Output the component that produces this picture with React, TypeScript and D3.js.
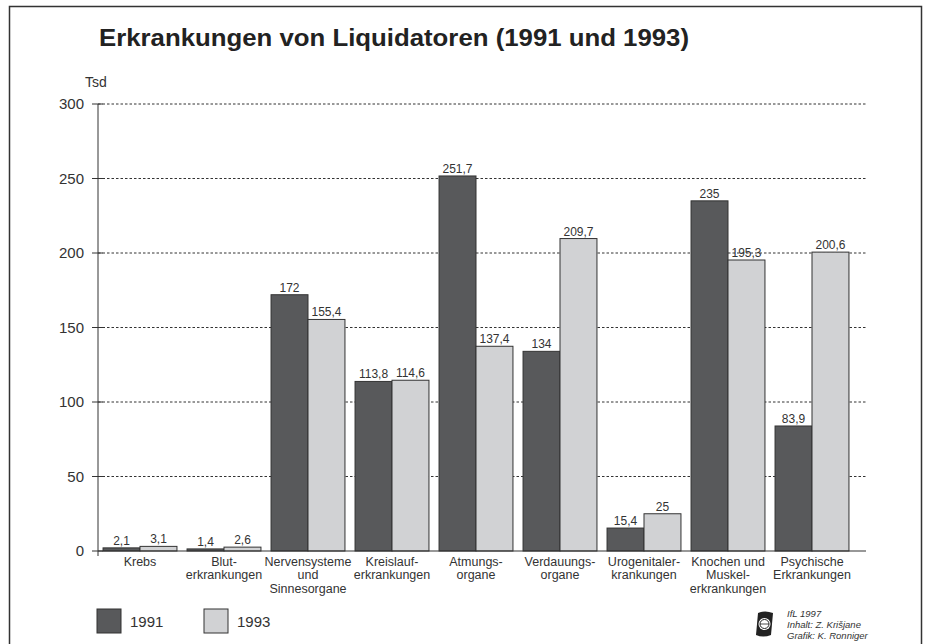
import React from "react";
import * as d3 from "d3";

const categories: string[][] = [
  ["Krebs"],
  ["Blut-", "erkrankungen"],
  ["Nervensysteme", "und", "Sinnesorgane"],
  ["Kreislauf-", "erkrankungen"],
  ["Atmungs-", "organe"],
  ["Verdauungs-", "organe"],
  ["Urogenitaler-", "krankungen"],
  ["Knochen und", "Muskel-", "erkrankungen"],
  ["Psychische", "Erkrankungen"],
];
const values1991 = [2.1, 1.4, 172, 113.8, 251.7, 134, 15.4, 235, 83.9];
const values1993 = [3.1, 2.6, 155.4, 114.6, 137.4, 209.7, 25, 195.3, 200.6];
const seriesNames = ["1991", "1993"];
const yTicks = [0, 50, 100, 150, 200, 250, 300];
const colors = ["#58595b", "#d1d2d4"];

const fmt = (v: number) => String(v).replace(".", ",");
const FONT = "'Liberation Sans', Arial, Helvetica, sans-serif";

export default function App() {
  const W = 927, H = 644;
  const x0 = 98, x1 = 854, gridEnd = 866;
  const y = d3.scaleLinear().domain([0, 300]).range([551, 104]);
  const xb = d3.scaleBand<number>().domain(d3.range(categories.length)).range([x0, x1]).paddingInner(0.12).paddingOuter(0.06);
  const xs = d3.scaleBand<number>().domain([0, 1]).range([0, xb.bandwidth()]);
  const series = [values1991, values1993];

  return (
    <svg width={W} height={H} style={{ position: "absolute", left: 0, top: 0, fontFamily: FONT }}>
      <rect x={0} y={0} width={W} height={H} fill="#fff" />
      <rect x={9.5} y={6.5} width={912} height={660} fill="none" stroke="#333" strokeWidth={1.5} />
      <text x={99} y={46} fontSize={24.5} fontWeight="bold" fill="#222" textLength={590} lengthAdjust="spacingAndGlyphs">Erkrankungen von Liquidatoren (1991 und 1993)</text>
      <text x={85} y={87} fontSize={14} fill="#333">Tsd</text>
      {yTicks.map((t) => (
        <g key={t}>
          {t > 0 && (
            <line x1={x0} x2={gridEnd} y1={y(t)} y2={y(t)} stroke="#333" strokeWidth={1} strokeDasharray="2.5,2" />
          )}
          <line x1={92} x2={103} y1={y(t)} y2={y(t)} stroke="#333" strokeWidth={1} />
          <text x={84} y={y(t) + 5} fontSize={15} textAnchor="end" fill="#333">{t}</text>
        </g>
      ))}
      {series.map((vals, si) =>
        vals.map((v, i) => {
          const bx = (xb(i) as number) + (xs(si) as number);
          return (
            <g key={`${si}-${i}`}>
              <rect x={bx} y={y(v)} width={xs.bandwidth()} height={y(0) - y(v)} fill={colors[si]} stroke="#333" strokeWidth={1} />
              <text x={bx + xs.bandwidth() / 2} y={y(v) - 3} fontSize={12} textAnchor="middle" fill="#333">{fmt(v)}</text>
            </g>
          );
        })
      )}
      <line x1={x0} x2={x0} y1={y(300)} y2={y(0) + 5} stroke="#333" strokeWidth={1} />
      <line x1={x0} x2={gridEnd} y1={y(0)} y2={y(0)} stroke="#333" strokeWidth={1.2} />
      {categories.map((lines, i) => (
        <text key={i} fontSize={12.5} textAnchor="middle" fill="#333">
          {lines.map((l, j) => (
            <tspan key={j} x={(xb(i) as number) + xb.bandwidth() / 2} y={566 + j * 13.3}>{l}</tspan>
          ))}
        </text>
      ))}
      {seriesNames.map((n, si) => (
        <g key={n} transform={`translate(${97 + si * 107},609)`}>
          <rect x={0} y={0} width={24} height={24} fill={colors[si]} stroke="#333" strokeWidth={1} />
          <text x={33} y={18} fontSize={15} fill="#333">{n}</text>
        </g>
      ))}
      <g transform="translate(755,611)">
        <path d="M3,2 Q10,-1 18,2 L16,24 Q8,27 1,24 Z" fill="#222" />
        <circle cx={9.5} cy={13} r={6} fill="#fff" />
        <circle cx={9.5} cy={13} r={4.5} fill="none" stroke="#222" strokeWidth={1} />
        <line x1={5} x2={14} y1={13} y2={13} stroke="#222" strokeWidth={0.8} />
      </g>
      <g fontSize={9.5} fontStyle="italic" fill="#333">
        <text x={787} y={617}>IfL 1997</text>
        <text x={787} y={628}>Inhalt: Z. Krišjane</text>
        <text x={787} y={639}>Grafik: K. Ronniger</text>
      </g>
    </svg>
  );
}
